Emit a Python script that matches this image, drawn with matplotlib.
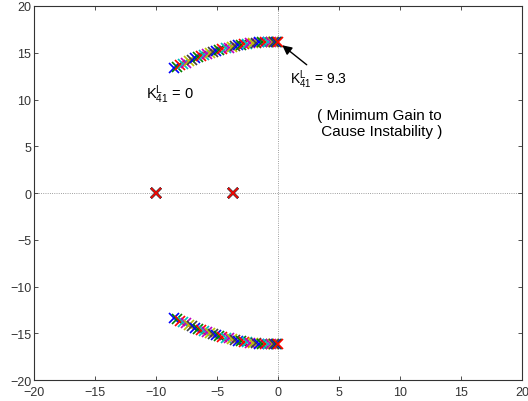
import matplotlib
matplotlib.use("Agg")
import matplotlib.pyplot as plt
import numpy as np

plt.rcParams['font.family'] = ['Liberation Sans', 'DejaVu Sans']
plt.rcParams['font.size'] = 9

# root locus branch (upper half); lower half is the conjugate
arc_re = [-8.55, -8.30, -8.05, -7.80, -7.55, -7.30, -7.05, -6.80, -6.55, -6.30,
          -6.05, -5.80, -5.55, -5.30, -5.05, -4.80, -4.55, -4.30, -4.05, -3.80,
          -3.55, -3.30, -3.05, -2.80, -2.55, -2.30, -2.05, -1.80, -1.55, -1.30,
          -1.05, -0.80, -0.60, -0.45, -0.30, -0.18, -0.08, 0.0]
arc_im = [13.35, 13.50, 13.65, 13.80, 13.95, 14.10, 14.25, 14.40, 14.55, 14.65,
          14.75, 14.90, 15.00, 15.10, 15.20, 15.30, 15.40, 15.50, 15.55, 15.65,
          15.70, 15.80, 15.85, 15.90, 15.95, 16.00, 16.05, 16.08, 16.10, 16.13,
          16.16, 16.18, 16.19, 16.20, 16.20, 16.20, 16.20, 16.20]
# fixed real roots
real_roots = [-10.0, -3.7]

colors = [(0, 0, 1), (0, 0.5, 0), (1, 0, 0), (0, 0.75, 0.75),
          (0.75, 0, 0.75), (0.75, 0.75, 0), (0.25, 0.25, 0.25)]

fig = plt.figure(figsize=(5.28, 4.02), dpi=100)
ax = fig.add_axes([0.0644, 0.0522, 0.9242, 0.9304])

ax.plot([0, 0], [-20, 20], ':', color='gray', lw=0.6, zorder=1)
ax.plot([-20, 20], [0, 0], ':', color='gray', lw=0.6, zorder=1)

for i in range(len(arc_re)):
    c = colors[i % len(colors)]
    xs = [arc_re[i], arc_re[i]] + real_roots
    ys = [arc_im[i], -arc_im[i]] + [0.0] * len(real_roots)
    ax.plot(xs, ys, 'x', color=c, ms=7.5, mew=1.2, ls='none', zorder=2)

ax.set_xlim(-20, 20)
ax.set_ylim(-20, 20)
ticks = np.arange(-20, 21, 5)
labels = ['\u221220', '\u221215', '\u221210', '\u22125', '0', '5', '10', '15', '20']
ax.set_xticks(ticks)
ax.set_yticks(ticks)
ax.set_xticklabels(labels)
ax.set_yticklabels(labels)
ax.tick_params(direction='in', length=3, width=0.6, top=True, right=True,
               colors='#333333')
ax.tick_params(axis='x', pad=4)
ax.tick_params(axis='y', pad=2)
for s in ax.spines.values():
    s.set_linewidth(0.8)
    s.set_color('#333333')

ax.text(-10.8, 10.2, r'$\mathregular{K^L_{41}}$ = 0', fontsize=10.5, ha='left', va='baseline')
ax.annotate(r'$\mathregular{K^L_{41}}$ = 9.3', xy=(0.35, 15.8), xytext=(1.0, 11.75),
            fontsize=10, ha='left', va='baseline',
            arrowprops=dict(arrowstyle='-|>', color='k', lw=1.0, mutation_scale=14,
                            shrinkA=0, shrinkB=0, relpos=(0.35, 1.0)))
ax.text(8.3, 7.5, '( Minimum Gain to\n Cause Instability )', fontsize=11,
        ha='center', va='center', linespacing=1.15)

fig.savefig('out.png', dpi=100)
